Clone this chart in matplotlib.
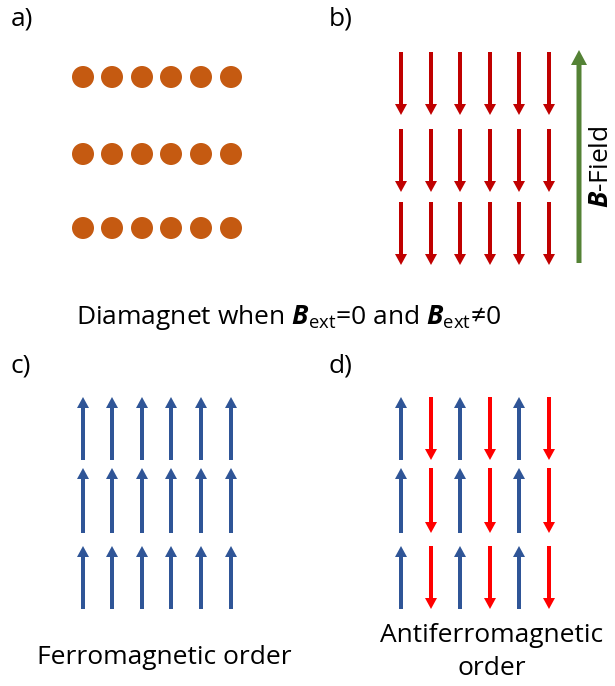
import matplotlib.pyplot as plt

plt.rcParams['font.family'] = ['Open Sans', 'DejaVu Sans']
plt.rcParams['mathtext.fontset'] = 'custom'
plt.rcParams['mathtext.rm'] = 'Open Sans'
plt.rcParams['mathtext.it'] = 'Open Sans:italic'
plt.rcParams['mathtext.bf'] = 'Open Sans:bold'
plt.rcParams['mathtext.bfit'] = 'Open Sans:bold:italic'

# grid of sites (pixel layout of the sketch)
cols_left = [83, 112, 142, 171, 201, 231]
cols_right = [401, 431, 460, 490, 519, 549]
dot_rows = [77, 154, 228]
rows_top = [(52, 115), (129, 192), (202, 265)]      # (start, end) of arrows in b)
rows_bottom = [(397, 460), (468, 533), (546, 609)]  # (start, end) of arrows in c), d)
afm_spins = [1, -1, 1, -1, 1, -1]                   # +1 up, -1 down

field_x = 579
field_span = (263, 50)

panel_labels = ['a)', 'b)', 'c)', 'd)']
label_pos = [(11, 19), (329, 19), (11, 366), (329, 366)]

orange = '#C55A11'
darkred = '#C00000'
red = '#FF0000'
blue = '#2F5597'
green = '#548235'

fig = plt.figure(figsize=(6.15, 6.86), dpi=100)
ax = fig.add_axes([0, 0, 1, 1])
ax.set_xlim(0, 615)
ax.set_ylim(686, 0)
ax.set_aspect('equal')
ax.axis('off')


def spin(x, y0, y1, color):
    # arrow from y0 to y1
    ax.arrow(x, y0, 0, y1 - y0, width=4, head_width=12, head_length=11,
             length_includes_head=True, color=color, lw=0)


# a) diamagnet, no field
for y in dot_rows:
    for x in cols_left:
        ax.add_patch(plt.Circle((x, y), 11, color=orange, lw=0))

# b) diamagnet in field
for y0, y1 in rows_top:
    for x in cols_right:
        spin(x, y0, y1, darkred)
ax.arrow(field_x, field_span[0], 0, field_span[1] - field_span[0], width=5,
         head_width=16, head_length=15, length_includes_head=True,
         color=green, lw=0)
ax.text(602, 167, r'$\mathbfit{B}$-Field', rotation=90, fontsize=19,
        ha='center', va='center')

# c) ferromagnet
for y0, y1 in rows_bottom:
    for x in cols_left:
        spin(x, y1, y0, blue)

# d) antiferromagnet
for y0, y1 in rows_bottom:
    for x, s in zip(cols_right, afm_spins):
        if s > 0:
            spin(x, y1, y0, blue)
        else:
            spin(x, y0, y1, red)

for lab, (x, y) in zip(panel_labels, label_pos):
    ax.text(x, y, lab, fontsize=19, ha='left', va='center')

ax.text(289, 318, r'Diamagnet when $\mathbfit{B}_{\mathrm{ext}}$=0 and $\mathbfit{B}_{\mathrm{ext}}$≠0',
        fontsize=19, ha='center', va='center')
ax.text(164, 657, 'Ferromagnetic order', fontsize=19, ha='center', va='center')
ax.text(492, 652, 'Antiferromagnetic\norder', fontsize=19, ha='center',
        va='center', linespacing=1.4)

fig.savefig('out.png', dpi=100)
